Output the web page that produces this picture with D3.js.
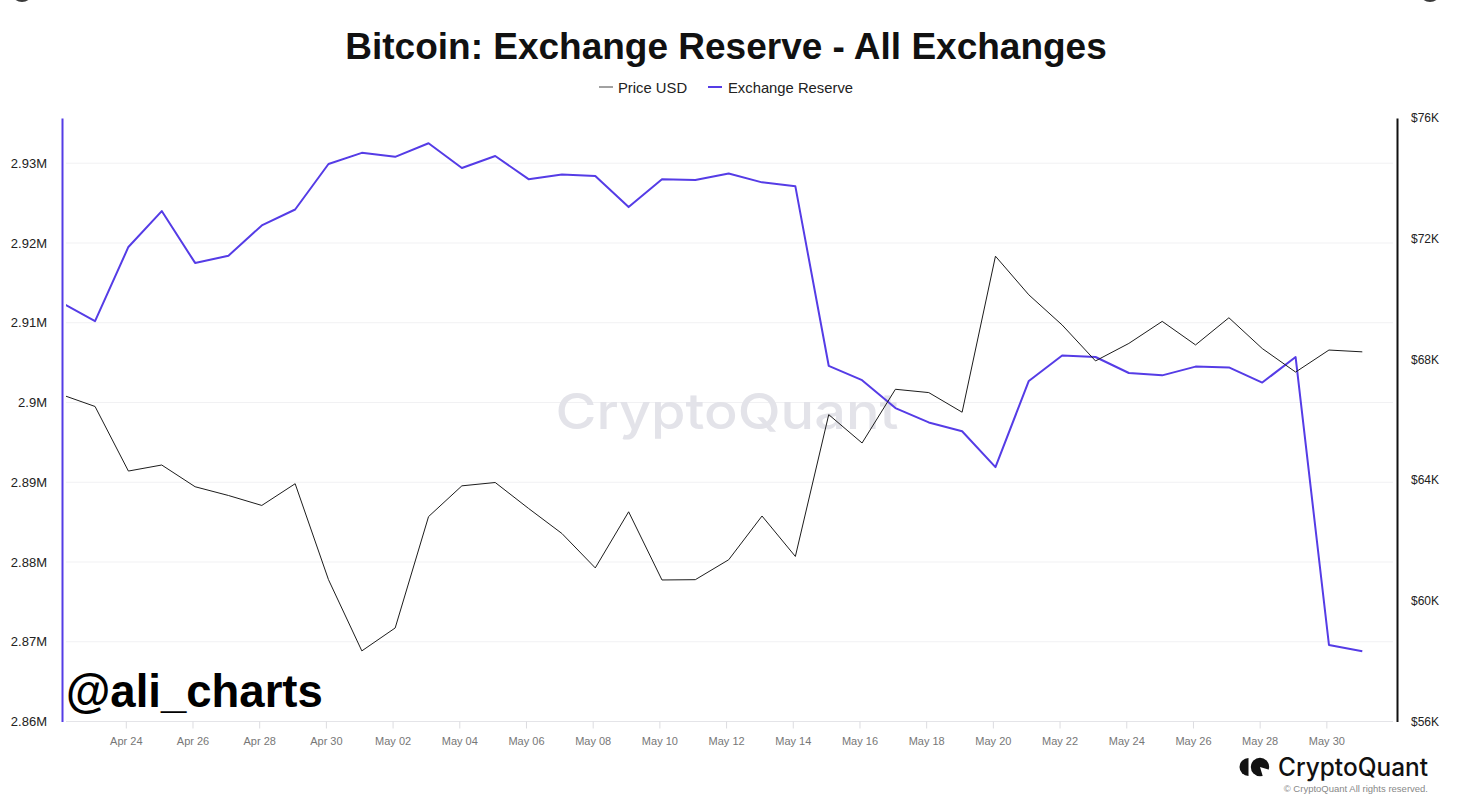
<!DOCTYPE html>
<html><head><meta charset="utf-8">
<script src="https://cdn.jsdelivr.net/npm/d3@7"></script>
<style>
html,body{margin:0;padding:0;background:#fff;}
svg{display:block;}
</style></head><body>
<svg id="chart" width="1467" height="807"></svg>
<script>
// ---------- data ----------
const dates = [
  "2024-04-22","2024-04-23","2024-04-24","2024-04-25","2024-04-26","2024-04-27","2024-04-28","2024-04-29","2024-04-30",
  "2024-05-01","2024-05-02","2024-05-03","2024-05-04","2024-05-05","2024-05-06","2024-05-07","2024-05-08","2024-05-09",
  "2024-05-10","2024-05-11","2024-05-12","2024-05-13","2024-05-14","2024-05-15","2024-05-16","2024-05-17","2024-05-18",
  "2024-05-19","2024-05-20","2024-05-21","2024-05-22","2024-05-23","2024-05-24","2024-05-25","2024-05-26","2024-05-27",
  "2024-05-28","2024-05-29","2024-05-30","2024-05-31"
];
// Exchange reserve, millions of BTC
const reserve = [
  2.9125, 2.9102, 2.9195, 2.9240, 2.9175, 2.9184, 2.9222, 2.9242, 2.9299,
  2.9313, 2.9308, 2.9325, 2.9294, 2.9309, 2.9280, 2.9286, 2.9284, 2.9245,
  2.9280, 2.9279, 2.9287, 2.9276, 2.9271, 2.9046, 2.9028, 2.8993, 2.8975,
  2.8964, 2.8919, 2.9027, 2.9059, 2.9057, 2.9037, 2.9034, 2.9045, 2.9044,
  2.9025, 2.9057, 2.8696, 2.8688
];
// BTC price, USD
const price = [
  66830, 66440, 64300, 64500, 63780, 63490, 63160, 63880, 60700,
  58340, 59100, 62790, 63810, 63920, 63060, 62230, 61090, 62950,
  60690, 60700, 61360, 62810, 61470, 66170, 65230, 67010, 66900,
  66250, 71420, 70140, 69140, 67950, 68530, 69260, 68480, 69380,
  68360, 67580, 68310, 68250
];
const reserveTicks = [2.86, 2.87, 2.88, 2.89, 2.90, 2.91, 2.92, 2.93];
const reserveTickLabels = ["2.86M","2.87M","2.88M","2.89M","2.9M","2.91M","2.92M","2.93M"];
const priceTicks = [56000, 60000, 64000, 68000, 72000, 76000];
const priceTickLabels = ["$56K","$60K","$64K","$68K","$72K","$76K"];
const xTickDates = [
  "2024-04-24","2024-04-26","2024-04-28","2024-04-30","2024-05-02","2024-05-04","2024-05-06","2024-05-08","2024-05-10",
  "2024-05-12","2024-05-14","2024-05-16","2024-05-18","2024-05-20","2024-05-22","2024-05-24","2024-05-26","2024-05-28","2024-05-30"
];
const seriesNames = ["Price USD", "Exchange Reserve"];
const titleText = "Bitcoin: Exchange Reserve - All Exchanges";

// ---------- layout ----------
const W = 1467, H = 807;
const plotL = 66, plotR = 1393, plotT = 118, plotB = 721.5;
const leftAxisX = 62, rightAxisX = 1397;
const purple = "#553ce6";
const black = "#1c1c1c";

const parse = d3.utcParse("%Y-%m-%d");
const data = dates.map((d, i) => ({date: parse(d), reserve: reserve[i], price: price[i]}));

const x = d3.scaleUtc()
  .domain([parse(dates[0]), parse(dates[dates.length - 1])])
  .range([61.7, 1362.3]);
const yL = d3.scaleLinear().domain([2.86, 2.93567]).range([plotB, plotT]);
const yR = d3.scaleLinear().domain([56000, 76000]).range([plotB, plotT]);

const svg = d3.select("#chart");
svg.append("rect").attr("width", W).attr("height", H).attr("fill", "#fff");

// corner artefacts (bits of UI buttons)
svg.append("circle").attr("cx", 22).attr("cy", -9).attr("r", 11).attr("fill", "#3a3a3a");
svg.append("circle").attr("cx", 1430).attr("cy", -9).attr("r", 11).attr("fill", "#3a3a3a");

// title
svg.append("text")
  .attr("x", 726).attr("y", 59)
  .attr("text-anchor", "middle")
  .attr("font-family", "'Liberation Sans', Arial, sans-serif")
  .attr("font-weight", "bold")
  .attr("font-size", 37)
  .attr("fill", "#111")
  .text(titleText);

// legend
const legend = svg.append("g").attr("font-family", "'Liberation Sans', Arial, sans-serif").attr("font-size", 14.8).attr("fill", "#222");
const legendItems = [
  {name: seriesNames[0], color: "#444", w: 1, lx: 599, tx: 618},
  {name: seriesNames[1], color: purple, w: 2, lx: 708, tx: 728}
];
legendItems.forEach(it => {
  legend.append("line").attr("x1", it.lx).attr("x2", it.lx + 14).attr("y1", 87).attr("y2", 87)
    .attr("stroke", it.color).attr("stroke-width", it.w);
  legend.append("text").attr("x", it.tx).attr("y", 92.5).text(it.name);
});

// gridlines
const grid = svg.append("g");
grid.selectAll("line").data(reserveTicks).join("line")
  .attr("x1", plotL).attr("x2", plotR)
  .attr("y1", d => yL(d)).attr("y2", d => yL(d))
  .attr("stroke", (d, i) => i === 0 ? "#e4e4e8" : "#f1f1f3")
  .attr("stroke-width", 1);

// watermark
svg.append("text")
  .attr("x", 727).attr("y", 429)
  .attr("text-anchor", "middle")
  .attr("font-family", "Inter, 'Open Sans', sans-serif")
  .attr("font-weight", 500)
  .attr("font-size", 50)
  .attr("textLength", 343)
  .attr("lengthAdjust", "spacingAndGlyphs")
  .attr("fill", "#e3e3e9")
  .text("CryptoQuant");

// x axis (ticks sit slightly left of the daily points, as in the source)
const xAxis = d3.axisBottom(x)
  .tickValues(xTickDates.map(parse))
  .tickFormat(d3.utcFormat("%b %d"))
  .tickSizeInner(7).tickSizeOuter(0).tickPadding(9);
const gx = svg.append("g").attr("transform", `translate(-2.6,${plotB})`).call(xAxis);
gx.select(".domain").remove();
gx.selectAll(".tick line").attr("stroke", "#dcdce0");
gx.selectAll(".tick text").attr("fill", "#777").attr("font-size", 11)
  .attr("font-family", "'Liberation Sans', Arial, sans-serif");

// left axis
const leftAxis = d3.axisLeft(yL)
  .tickValues(reserveTicks)
  .tickFormat((d, i) => reserveTickLabels[i])
  .tickSizeInner(0).tickSizeOuter(0).tickPadding(15);
const gl = svg.append("g").attr("transform", `translate(${leftAxisX},0)`).call(leftAxis);
gl.select(".domain").attr("stroke", purple).attr("stroke-width", 2);
gl.selectAll(".tick text").attr("fill", "#222").attr("font-size", 13)
  .attr("font-family", "'Liberation Sans', Arial, sans-serif");

// right axis
const rightAxis = d3.axisRight(yR)
  .tickValues(priceTicks)
  .tickFormat((d, i) => priceTickLabels[i])
  .tickSizeInner(0).tickSizeOuter(0).tickPadding(14);
const gr = svg.append("g").attr("transform", `translate(${rightAxisX},0)`).call(rightAxis);
gr.select(".domain").attr("stroke", "#111").attr("stroke-width", 2);
gr.selectAll(".tick text").attr("fill", "#222").attr("font-size", 12)
  .attr("font-family", "'Liberation Sans', Arial, sans-serif");

// clip
svg.append("defs").append("clipPath").attr("id", "plotclip")
  .append("rect").attr("x", plotL).attr("y", plotT - 10).attr("width", plotR - plotL).attr("height", plotB - plotT + 20);

const lines = svg.append("g").attr("clip-path", "url(#plotclip)");
lines.append("path").datum(data)
  .attr("fill", "none").attr("stroke", purple).attr("stroke-width", 2).attr("stroke-linejoin", "round")
  .attr("d", d3.line().x(d => x(d.date)).y(d => yL(d.reserve)));
lines.append("path").datum(data)
  .attr("fill", "none").attr("stroke", black).attr("stroke-width", 1).attr("stroke-linejoin", "miter")
  .attr("d", d3.line().x(d => x(d.date)).y(d => yR(d.price)));

// @ali_charts
svg.append("text")
  .attr("x", 66).attr("y", 707)
  .attr("font-family", "'Liberation Sans', Arial, sans-serif")
  .attr("font-weight", "bold")
  .attr("font-size", 45.5)
  .attr("fill", "#000")
  .text("@ali_charts");

// bottom-right logo
const logo = svg.append("g");
logo.append("path").attr("d", "M1248.5,758 A9,9 0 0,0 1248.5,776 Z").attr("fill", "#111");
logo.append("circle").attr("cx", 1260).attr("cy", 767).attr("r", 9.2).attr("fill", "#111");
logo.append("path").attr("d", "M1260,767 L1270,770 L1270,777 L1263,777 Z").attr("fill", "#fff");
logo.append("text")
  .attr("x", 1278).attr("y", 776)
  .attr("font-family", "Inter, 'Open Sans', sans-serif")
  .attr("font-weight", 500)
  .attr("font-size", 25)
  .attr("textLength", 150)
  .attr("lengthAdjust", "spacingAndGlyphs")
  .attr("fill", "#111")
  .text("CryptoQuant");
svg.append("text")
  .attr("x", 1428).attr("y", 792)
  .attr("text-anchor", "end")
  .attr("font-family", "'Liberation Sans', Arial, sans-serif")
  .attr("font-size", 9.5)
  .attr("fill", "#888")
  .text("© CryptoQuant All rights reserved.");
</script>
</body></html>
